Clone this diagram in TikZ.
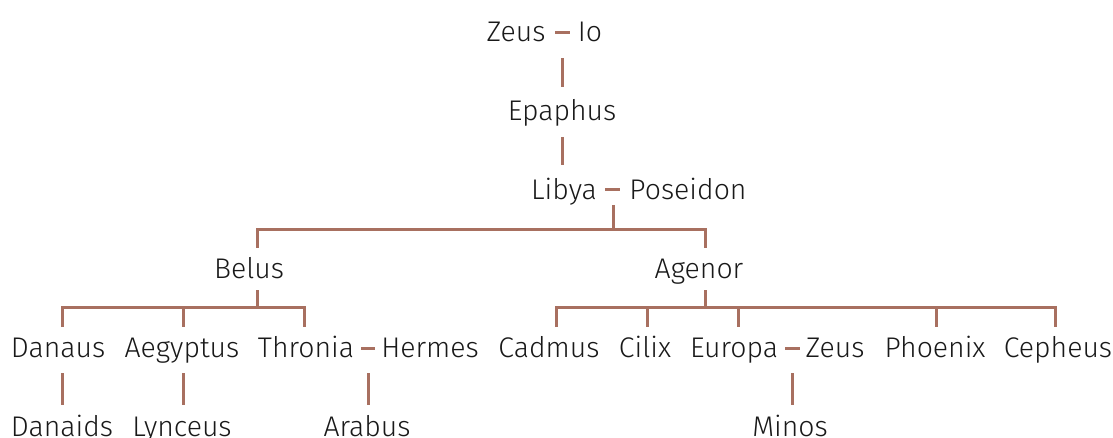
\documentclass[tikz,border=0pt]{standalone}
\usepackage{fontspec}
\setmainfont{Fira Sans Light}
\definecolor{ln}{RGB}{168,112,96}
\begin{document}
\begin{tikzpicture}[x=1pt,y=-1pt,
  nm/.style={anchor=base,inner sep=0pt,font=\fontsize{28.4}{30}\selectfont,text=black!90},
  ln/.style={draw=ln,line width=3pt}]
\useasboundingbox (0,0) rectangle (1113,438);
% row 1
\node[nm] (zeus1) at (516,42) {Zeus};
\node[nm] (io) at (590,42) {Io};
\coordinate (d1a) at (555,33); \coordinate (d1b) at (570,33);
\draw[ln] (d1a) -- (d1b);
\node[nm] (epaphus) at (562,121) {Epaphus};
\node[nm] (libya) at (564,200) {Libya};
\node[nm] (poseidon) at (688,200) {Poseidon};
\coordinate (d2a) at (605,190); \coordinate (d2b) at (620,190);
\draw[ln] (d2a) -- (d2b);
\draw[ln] (562,58) coordinate (t1) -- (562,87) coordinate (t2);
\draw[ln] (562,137) coordinate (t3) -- (562,165) coordinate (t4);
% row 2
\node[nm] (belus) at (249,278) {Belus};
\node[nm] (agenor) at (699,278) {Agenor};
\coordinate (lp) at (613,205);
\coordinate (h1) at (613,230);
\coordinate (bl) at (257,248);
\coordinate (ag) at (705,248);
\draw[ln] (lp) -- (h1);
\draw[ln] (bl) |- (h1) -| (ag);
% row 3 left
\node[nm] (danaus) at (58,357) {Danaus};
\node[nm] (aegyptus) at (182,357) {Aegyptus};
\node[nm] (thronia) at (306,357) {Thronia};
\node[nm] (hermes) at (430,357) {Hermes};
\coordinate (d3a) at (361,348); \coordinate (d3b) at (375,348);
\draw[ln] (d3a) -- (d3b);
\coordinate (bb) at (257,290);
\coordinate (bh) at (257,307);
\draw[ln] (bb) -- (bh);
\draw[ln] (62,327) coordinate (c1) |- (304,307) coordinate (c3h) -- (304,327) coordinate (c3);
\draw[ln] (183,307) coordinate (c2h) -- (183,327) coordinate (c2);
% row 3 right
\node[nm] (cadmus) at (549,357) {Cadmus};
\node[nm] (cilix) at (645,357) {Cilix};
\node[nm] (europa) at (734,357) {Europa};
\node[nm] (zeus2) at (835,357) {Zeus};
\node[nm] (phoenix) at (935,357) {Phoenix};
\node[nm] (cepheus) at (1058,357) {Cepheus};
\coordinate (d4a) at (785,348); \coordinate (d4b) at (800,348);
\draw[ln] (d4a) -- (d4b);
\coordinate (ab) at (705,290);
\coordinate (ah) at (705,307);
\draw[ln] (ab) -- (ah);
\draw[ln] (556,327) coordinate (e1) |- (1055,307) coordinate (e6h) -- (1055,327) coordinate (e6);
\draw[ln] (647,307) -- (647,327);
\draw[ln] (738,307) -- (738,327);
\draw[ln] (936,307) -- (936,327);
% row 4
\node[nm] (danaids) at (62,436) {Danaids};
\node[nm] (lynceus) at (182,436) {Lynceus};
\node[nm] (arabus) at (367,436) {Arabus};
\node[nm] (minos) at (790,436) {Minos};
\draw[ln] (62,373) -- (62,405);
\draw[ln] (183,373) -- (183,405);
\draw[ln] (368,373) -- (368,405);
\draw[ln] (792,373) -- (792,405);
\end{tikzpicture}
\end{document}
